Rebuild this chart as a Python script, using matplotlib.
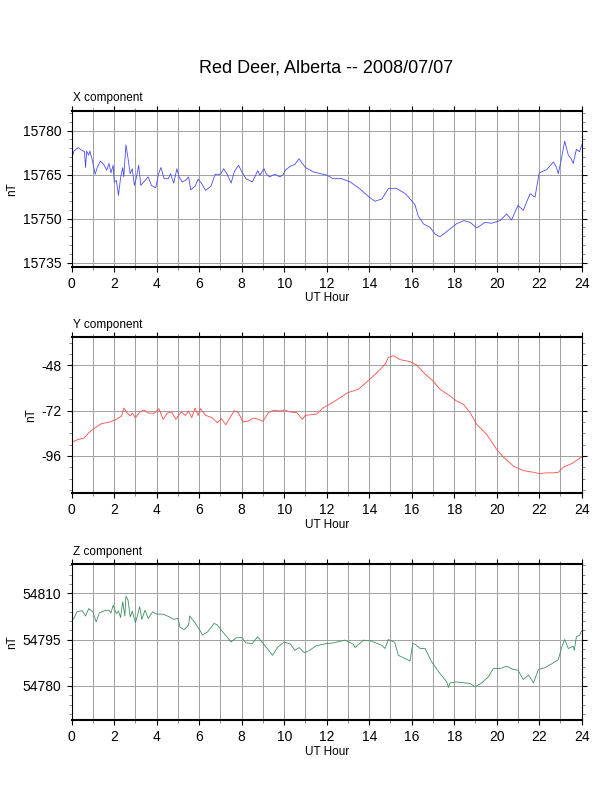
import matplotlib
matplotlib.use("Agg")
import matplotlib.pyplot as plt
from matplotlib.ticker import MultipleLocator

plt.rcParams['font.family'] = ['Liberation Sans', 'DejaVu Sans']
plt.rcParams['axes.unicode_minus'] = False

TITLE = "Red Deer, Alberta -- 2008/07/07"

# X component (nT) vs UT hour
x_hours = [0.0, 0.05, 0.1, 0.3, 0.45, 0.6, 0.65, 0.7, 0.8, 0.85, 0.95, 1.05, 1.1, 1.2, 1.35,
           1.5, 1.65, 1.75, 1.85, 1.95, 2.0, 2.1, 2.2, 2.3, 2.4, 2.45, 2.55, 2.65, 2.75, 2.85,
           2.95, 3.05, 3.15, 3.25, 3.45, 3.6, 3.75, 3.95, 4.1, 4.2, 4.35, 4.55, 4.65, 4.8, 4.95,
           5.05, 5.2, 5.35, 5.5, 5.6, 5.8, 5.95, 6.1, 6.3, 6.55, 6.75, 7.0, 7.15, 7.3, 7.5,
           7.65, 7.85, 8.0, 8.2, 8.5, 8.75, 8.85, 9.05, 9.15, 9.3, 9.55, 9.8, 9.95, 10.05, 10.3,
           10.5, 10.7, 10.85, 11.0, 11.37, 12.0, 12.3, 12.7, 13.1, 13.55, 14.0, 14.27, 14.6, 14.9,
           15.3, 15.7, 16.15, 16.3, 16.55, 16.86, 17.1, 17.33, 17.65, 17.9, 18.1, 18.45, 18.75,
           19.06, 19.45, 19.76, 20.16, 20.47, 20.7, 21.0, 21.25, 21.57, 21.8, 22.0, 22.35, 22.67,
           22.8, 22.9, 23.06, 23.2, 23.37, 23.5, 23.6, 23.75, 23.9, 24.0]
x_values = [15773.4, 15771.6, 15773.0, 15774.2, 15773.4, 15772.8, 15767.4, 15773.0, 15771.6, 15773.0,
            15770.5, 15767.0, 15765.1, 15767.4, 15769.6, 15768.5, 15766.5, 15768.8, 15765.6, 15768.2,
            15762.5, 15763.0, 15757.9, 15764.0, 15767.4, 15764.2, 15775.1, 15770.5, 15765.3, 15767.0,
            15761.3, 15764.2, 15768.2, 15761.3, 15763.0, 15764.2, 15761.3, 15760.5, 15765.6, 15767.4,
            15763.6, 15763.6, 15765.3, 15762.1, 15767.0, 15764.2, 15762.5, 15763.0, 15764.2, 15759.8,
            15761.0, 15763.4, 15762.1, 15759.6, 15761.0, 15765.1, 15765.1, 15767.0, 15765.3, 15762.1,
            15766.0, 15768.2, 15766.0, 15763.6, 15762.5, 15766.3, 15764.8, 15767.0, 15765.3, 15764.2,
            15765.1, 15764.2, 15765.0, 15766.5, 15767.9, 15768.5, 15770.4, 15768.8, 15767.4, 15765.9,
            15764.8, 15763.6, 15763.6, 15762.5, 15760.2, 15757.3, 15755.9, 15756.7, 15760.2, 15760.2,
            15758.5, 15754.8, 15751.0, 15748.2, 15747.0, 15744.7, 15743.8, 15745.6, 15747.0, 15748.2,
            15749.3, 15748.7, 15746.8, 15748.7, 15748.4, 15749.3, 15751.6, 15749.5, 15754.5, 15752.8,
            15758.5, 15757.3, 15765.6, 15766.7, 15769.3, 15767.6, 15765.3, 15771.0, 15776.4, 15771.6,
            15770.5, 15768.8, 15773.6, 15772.8, 15775.1]

# Y component (nT) vs UT hour
y_hours = [0.0, 0.3, 0.6, 0.8, 1.1, 1.4, 1.8, 2.1, 2.35, 2.45, 2.6, 2.75, 2.85, 3.0, 3.2, 3.4,
           3.6, 3.9, 4.1, 4.3, 4.5, 4.7, 4.9, 5.15, 5.35, 5.5, 5.65, 5.8, 5.95, 6.05, 6.3, 6.6,
           6.85, 7.05, 7.25, 7.45, 7.65, 7.85, 8.05, 8.3, 8.55, 8.8, 9.0, 9.25, 9.5, 9.8, 10.0,
           10.3, 10.6, 10.85, 11.0, 11.53, 11.84, 12.0, 12.47, 13.0, 13.5, 14.0, 14.5, 14.75,
           14.9, 15.14, 15.45, 15.92, 16.24, 16.63, 17.0, 17.33, 17.8, 18.1, 18.43, 18.75, 19.06,
           19.53, 20.0, 20.3, 20.8, 21.25, 21.73, 22.0, 22.35, 22.67, 22.9, 23.14, 23.53, 24.0]
y_values = [-88.7, -87.3, -86.4, -83.7, -81.1, -78.9, -78.0, -76.6, -74.8, -70.6, -73.1, -74.8,
            -73.3, -75.7, -72.7, -71.6, -73.3, -73.3, -70.9, -76.6, -73.3, -72.7, -76.6, -72.7,
            -74.5, -72.2, -75.7, -70.6, -74.5, -70.9, -74.5, -75.7, -78.4, -76.3, -79.5, -75.7,
            -72.0, -73.1, -78.0, -77.5, -75.9, -76.6, -77.7, -73.1, -71.8, -72.2, -71.6, -72.7,
            -73.1, -76.6, -74.5, -73.8, -70.4, -69.5, -66.3, -62.4, -60.6, -55.6, -50.3, -47.3,
            -43.7, -42.8, -44.9, -46.0, -47.8, -52.6, -56.2, -60.6, -64.2, -66.8, -68.6, -73.1,
            -79.3, -84.6, -92.6, -96.5, -101.5, -103.8, -104.7, -105.4, -105.0, -105.0, -104.7,
            -101.9, -100.1, -96.5]

# Z component (nT) vs UT hour
z_hours = [0.0, 0.1, 0.25, 0.5, 0.65, 0.8, 1.0, 1.15, 1.3, 1.55, 1.75, 1.85, 1.95, 2.1, 2.2,
           2.3, 2.4, 2.5, 2.55, 2.65, 2.75, 2.85, 3.0, 3.1, 3.2, 3.3, 3.45, 3.6, 3.8, 4.0, 4.3,
           4.6, 4.8, 5.0, 5.1, 5.3, 5.5, 5.55, 5.8, 6.05, 6.15, 6.4, 6.7, 6.85, 7.1, 7.3, 7.5,
           7.75, 8.0, 8.2, 8.5, 8.75, 8.95, 9.2, 9.45, 9.7, 10.0, 10.3, 10.5, 10.7, 10.95, 11.2,
           11.5, 12.0, 12.3, 12.86, 13.25, 13.33, 13.73, 14.1, 14.6, 14.75, 14.9, 15.2, 15.37,
           15.7, 15.92, 16.05, 16.15, 16.4, 16.63, 16.94, 17.33, 17.65, 17.73, 17.8, 18.1, 18.5,
           18.75, 18.98, 19.3, 19.6, 19.84, 20.16, 20.47, 20.78, 21.0, 21.25, 21.5, 21.73, 21.96,
           22.27, 22.6, 22.9, 23.06, 23.2, 23.37, 23.6, 23.65, 23.75, 23.9, 24.0]
z_values = [54801.5, 54801.8, 54804.0, 54804.3, 54802.6, 54805.0, 54803.9, 54800.7, 54803.6, 54804.3,
            54804.5, 54803.6, 54806.1, 54803.4, 54804.2, 54802.1, 54807.2, 54802.6, 54809.0, 54807.7,
            54802.3, 54804.2, 54800.4, 54802.9, 54805.6, 54801.5, 54804.5, 54801.8, 54803.9, 54803.2,
            54803.2, 54802.3, 54801.5, 54801.8, 54798.9, 54798.2, 54799.7, 54802.6, 54800.4, 54797.8,
            54796.4, 54797.5, 54800.2, 54799.7, 54797.5, 54795.9, 54794.2, 54795.6, 54795.6, 54793.9,
            54793.7, 54795.9, 54794.2, 54792.1, 54789.9, 54792.6, 54794.2, 54793.5, 54791.5, 54792.4,
            54790.7, 54791.5, 54793.0, 54793.7, 54793.9, 54794.8, 54793.5, 54792.4, 54794.8, 54794.5,
            54793.1, 54792.1, 54795.0, 54794.1, 54789.9, 54788.8, 54788.1, 54793.7, 54793.5, 54792.1,
            54792.1, 54787.8, 54784.0, 54781.3, 54779.5, 54781.0, 54781.3, 54781.0, 54780.8, 54779.7,
            54781.0, 54782.9, 54785.6, 54785.6, 54786.4, 54785.3, 54785.1, 54782.1, 54783.5, 54781.0,
            54785.3, 54785.9, 54787.2, 54788.5, 54792.6, 54795.0, 54792.1, 54792.8, 54791.5, 54795.9,
            54796.4, 54797.8]

panels = [
    ("X component", x_hours, x_values, "#4a4aff", (15733.6, 15786.8), 15, 3, 0.6633),
    ("Y component", y_hours, y_values, "#ff4a4a", (-115.7, -32.9), 24, 6, 0.3775),
    ("Z component", z_hours, z_values, "#3f8f60", (54769.0, 54819.4), 15, 3, 0.0909),
]


def draw_panel(fig, name, hours, values, color, ylim, major, minor, bottom):
    ax = fig.add_axes([0.1172, bottom, 0.8333, 0.197])
    ax.plot(hours, values, color=color, linewidth=0.6)
    ax.set_xlim(0, 24)
    ax.set_ylim(*ylim)

    ax.xaxis.set_major_locator(MultipleLocator(2))
    ax.xaxis.set_minor_locator(MultipleLocator(1))
    ax.yaxis.set_major_locator(MultipleLocator(major))
    ax.yaxis.set_minor_locator(MultipleLocator(minor))
    # hourly vertical grid, horizontal grid on labelled values only
    ax.grid(which="both", axis="x", color="#a0a0a0", linewidth=0.7)
    ax.grid(which="major", axis="y", color="#a0a0a0", linewidth=0.7)

    ax.tick_params(which="both", direction="out", top=True, right=True, labelsize=10, pad=4)
    ax.tick_params(which="major", length=3.5, width=0.8)
    ax.tick_params(which="minor", length=2.5, width=0.6, color="#777777")
    for side in ("top", "bottom"):
        ax.spines[side].set_linewidth(1.5)
    for side in ("left", "right"):
        ax.spines[side].set_linewidth(0.8)

    ax.set_xlabel("UT Hour", fontsize=8.5, labelpad=1)
    ax.set_ylabel("nT", fontsize=8.5, labelpad=3)
    ax.text(0.002, 1.04, name, transform=ax.transAxes, fontsize=8.5, ha="left", va="bottom")


fig = plt.figure(figsize=(6.12, 7.92), dpi=100)
fig.text(0.533, 0.914, TITLE, ha="center", va="center", fontsize=13)

for p in panels:
    draw_panel(fig, *p)

fig.savefig("out.png", dpi=100)
plt.close()
